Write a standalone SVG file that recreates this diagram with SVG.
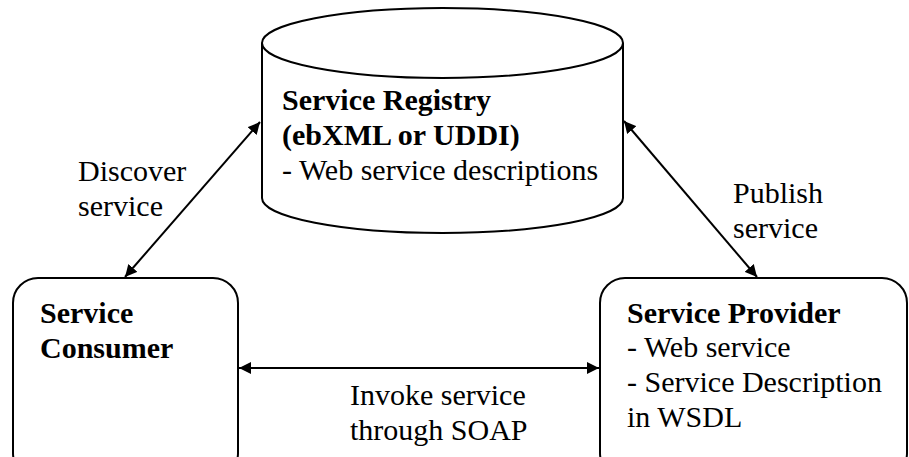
<svg xmlns="http://www.w3.org/2000/svg" width="909" height="457" viewBox="0 0 909 457">
<style>
text{font-family:'Liberation Serif','Times New Roman',serif;font-size:30px;fill:#000}
.b{font-weight:bold}
.shape{fill:#fff;stroke:#000;stroke-width:2}
.conn{stroke:#000;stroke-width:2;fill:none}
</style>
<defs>
<marker id="ah" viewBox="0 0 10 10" refX="10" refY="5" markerWidth="12" markerHeight="12" markerUnits="userSpaceOnUse" orient="auto">
<path d="M0,0 L10,5 L0,10 z" fill="#000"/>
</marker>
<marker id="as" viewBox="0 0 10 10" refX="0" refY="5" markerWidth="12" markerHeight="12" markerUnits="userSpaceOnUse" orient="auto">
<path d="M10,0 L0,5 L10,10 z" fill="#000"/>
</marker>
</defs>
<g id="registry">
<path class="shape" d="M262,43 L262,198 A180.5,35 0 0 0 623,198 L623,43"/>
<ellipse class="shape" cx="442.5" cy="43" rx="180.5" ry="35"/>
<text x="282" y="110" class="b">Service Registry</text>
<text x="282" y="145" class="b">(ebXML or UDDI)</text>
<text x="282" y="180">- Web service descriptions</text>
</g>
<g id="consumer">
<rect class="shape" x="13" y="278" width="225" height="200" rx="25" ry="25"/>
<text x="40" y="323" class="b">Service</text>
<text x="40" y="358" class="b">Consumer</text>
</g>
<g id="provider">
<rect class="shape" x="600" y="278" width="307" height="200" rx="25" ry="25"/>
<text x="627" y="323" class="b">Service Provider</text>
<text x="627" y="357">- Web service</text>
<text x="627" y="392">- Service Description</text>
<text x="627" y="427">in WSDL</text>
</g>
<g id="connectors">
<line class="conn" x1="260" y1="122" x2="125" y2="277" marker-start="url(#as)" marker-end="url(#ah)"/>
<line class="conn" x1="624" y1="121" x2="757" y2="277" marker-start="url(#as)" marker-end="url(#ah)"/>
<line class="conn" x1="239" y1="368" x2="599" y2="368" marker-start="url(#as)" marker-end="url(#ah)"/>
<text x="78" y="181">Discover</text>
<text x="78" y="216">service</text>
<text x="733" y="203">Publish</text>
<text x="733" y="238">service</text>
<text x="350" y="405">Invoke service</text>
<text x="350" y="440">through SOAP</text>
</g>
</svg>
